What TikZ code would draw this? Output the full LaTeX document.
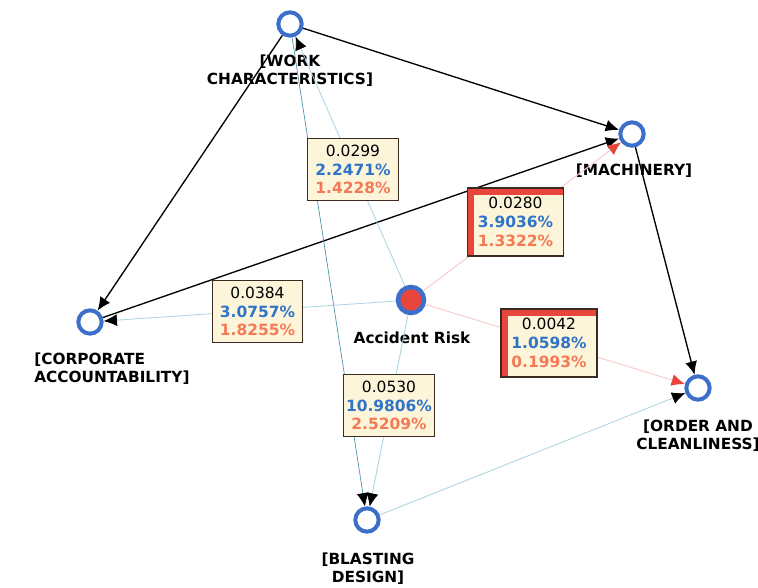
\documentclass[tikz,border=0pt]{standalone}
\usepackage{fontspec}
\setmainfont{DejaVu Sans}
\usetikzlibrary{arrows.meta}

\definecolor{ringblue}{HTML}{3B6FC9}
\definecolor{riskred}{HTML}{E8453C}
\definecolor{cream}{HTML}{FDF5DA}
\definecolor{boxline}{HTML}{3A2A22}
\definecolor{pctblue}{HTML}{2E74C9}
\definecolor{pctred}{HTML}{F47A56}
\definecolor{linkteal}{HTML}{4B8FA6}
\definecolor{linkblue}{HTML}{A9D3E3}
\definecolor{linkpink}{HTML}{F7CFCF}

\newcommand{\statlines}[3]{#1\\\textcolor{pctblue}{\bfseries #2}\\\textcolor{pctred}{\bfseries #3}}

\begin{document}
\begin{tikzpicture}[x=0.75pt,y=-0.75pt,
    factor/.style={circle, draw=ringblue, line width=3pt, fill=white, minimum size=17.5pt, inner sep=0pt},
    target/.style={factor, fill=riskred, line width=3.4pt, minimum size=19.5pt},
    caption/.style={font=\fontsize{11.5}{13.5}\selectfont\bfseries, align=center, inner sep=0pt},
    arc/.style={-{Latex[length=10pt,width=9pt,color=black]}, draw=black, line width=1pt},
    thin arc/.style={arc, draw=linkteal, line width=0.5pt},
    soft arc/.style={arc, draw=linkblue, line width=0.6pt},
    warm arc/.style={-{Latex[length=10pt,width=9pt,color=riskred]}, draw=linkpink, line width=0.8pt},
    stat/.style={draw=boxline, fill=cream, line width=0.9pt, align=center, inner sep=0pt,
        minimum width=68pt, minimum height=47pt, font=\fontsize{11.6}{14}\selectfont},
    hotstat/.style={stat, minimum width=72pt, minimum height=51pt,
        path picture={
            \fill[riskred] (path picture bounding box.north west) rectangle ([xshift=5pt]path picture bounding box.south west);
            \fill[riskred] (path picture bounding box.north west) rectangle ([yshift=-5pt]path picture bounding box.north east);}}]
    \useasboundingbox (0,0) rectangle (758,588);

    % Place the factors
    \node[factor] (work) at (290,24) {};
    \node[factor] (mach) at (632,134) {};
    \node[factor] (corp) at (90,322) {};
    \node[target] (risk) at (411,300) {};
    \node[factor] (order) at (698,388) {};
    \node[factor] (blast) at (367,520) {};

    % Names under the factors
    \node[caption] (workname) at (290,71) {[WORK\\CHARACTERISTICS]};
    \node[caption] (machname) at (634,171) {[MACHINERY]};
    \node[caption, align=left, anchor=west] (corpname) at (34,369) {[CORPORATE\\ACCOUNTABILITY]};
    \node[caption] (riskname) at (412,338) {Accident Risk};
    \node[caption] (ordername) at (698,436) {[ORDER AND\\CLEANLINESS]};
    \node[caption] (blastname) at (368,569) {[BLASTING\\DESIGN]};

    % Draw the arcs between the factors
    \draw[arc] (work) -- (mach);
    \draw[arc] (work) -- (corp);
    \draw[arc] (corp) -- (mach);
    \draw[arc] (mach) -- (order);
    \draw[thin arc] (work) -- (blast);
    \draw[soft arc] (blast) -- (order);

    % Draw the arcs going out of the accident risk
    \draw[soft arc] (risk) -- (work);
    \draw[soft arc] (risk) -- (corp);
    \draw[soft arc] (risk) -- (blast);
    \draw[warm arc] (risk) -- (mach);
    \draw[warm arc] (risk) -- (order);

    % Put the strength boxes on the arcs
    \node[stat] (stwork) at (353,169.5) {\statlines{0.0299}{2.2471\%}{1.4228\%}};
    \node[hotstat] (stmach) at (515.5,222) {\statlines{0.0280}{3.9036\%}{1.3322\%}};
    \node[stat] (stcorp) at (257.5,311.5) {\statlines{0.0384}{3.0757\%}{1.8255\%}};
    \node[hotstat] (storder) at (549,343) {\statlines{0.0042}{1.0598\%}{0.1993\%}};
    \node[stat] (stblast) at (389,405.5) {\statlines{0.0530}{10.9806\%}{2.5209\%}};
\end{tikzpicture}
\end{document}
